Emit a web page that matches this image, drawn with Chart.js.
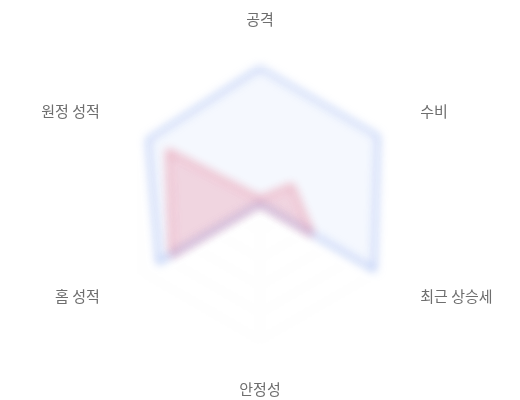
<!DOCTYPE html>
<html>
<head>
<meta charset="utf-8">
<script src="https://cdn.jsdelivr.net/npm/chart.js@4/dist/chart.umd.min.js"></script>
<style>
  body { margin: 0; background: #fff; }
  #wrap { width: 520px; height: 400px; }
</style>
</head>
<body>
<div id="wrap"><canvas id="radar"></canvas></div>
<script>
const categories = ["공격", "수비", "최근 상승세", "안정성", "홈 성적", "원정 성적"];
const teamA = [100, 100, 97, 0, 86, 95];
const teamB = [4, 27, 44, 0, 75, 78];

// blur the grid + polygons, keep the point labels crisp
const softPlugin = {
    id: "soft",
    beforeDraw(chart) {
        chart.ctx.save();
        chart.ctx.filter = "blur(5px)";
    },
    afterDatasetsDraw(chart) {
        chart.ctx.restore();
    },
    afterDraw(chart) {
        const scale = chart.scales.r;
        const ctx = chart.ctx;
        ctx.save();
        ctx.font = "15px 'Noto Sans CJK KR', sans-serif";
        ctx.fillStyle = "#6e6e6e";
        ctx.textBaseline = "middle";
        chart.data.labels.forEach((label, i) => {
            const p = scale.getPointPosition(i, scale.drawingArea + 49);
            if (Math.abs(p.x - scale.xCenter) < 1) ctx.textAlign = "center";
            else ctx.textAlign = p.x > scale.xCenter ? "left" : "right";
            ctx.fillText(label, p.x, p.y);
        });
        ctx.restore();
    }
};

new Chart(document.getElementById("radar"), {
    type: "radar",
    data: {
        labels: categories,
        datasets: [
            {
                label: "A",
                data: teamA,
                borderColor: "rgb(115, 150, 235)",
                backgroundColor: "rgba(115, 150, 235, 0.07)",
                borderWidth: 2,
                pointRadius: 0
            },
            {
                label: "B",
                data: teamB,
                borderColor: "rgb(235, 110, 130)",
                backgroundColor: "rgba(235, 110, 130, 0.26)",
                borderWidth: 2,
                pointRadius: 0
            }
        ]
    },
    options: {
        responsive: true,
        maintainAspectRatio: false,
        animation: false,
        layout: { padding: { top: 68, bottom: 60, left: 124, right: 124 } },
        plugins: { legend: { display: false }, tooltip: { enabled: false } },
        scales: {
            r: {
                min: 0,
                max: 100,
                ticks: { display: false, stepSize: 20 },
                grid: { color: "rgba(0,0,0,0.05)" },
                angleLines: { color: "rgba(0,0,0,0.05)" },
                pointLabels: { display: false }
            }
        }
    },
    plugins: [softPlugin]
});
</script>
</body>
</html>
